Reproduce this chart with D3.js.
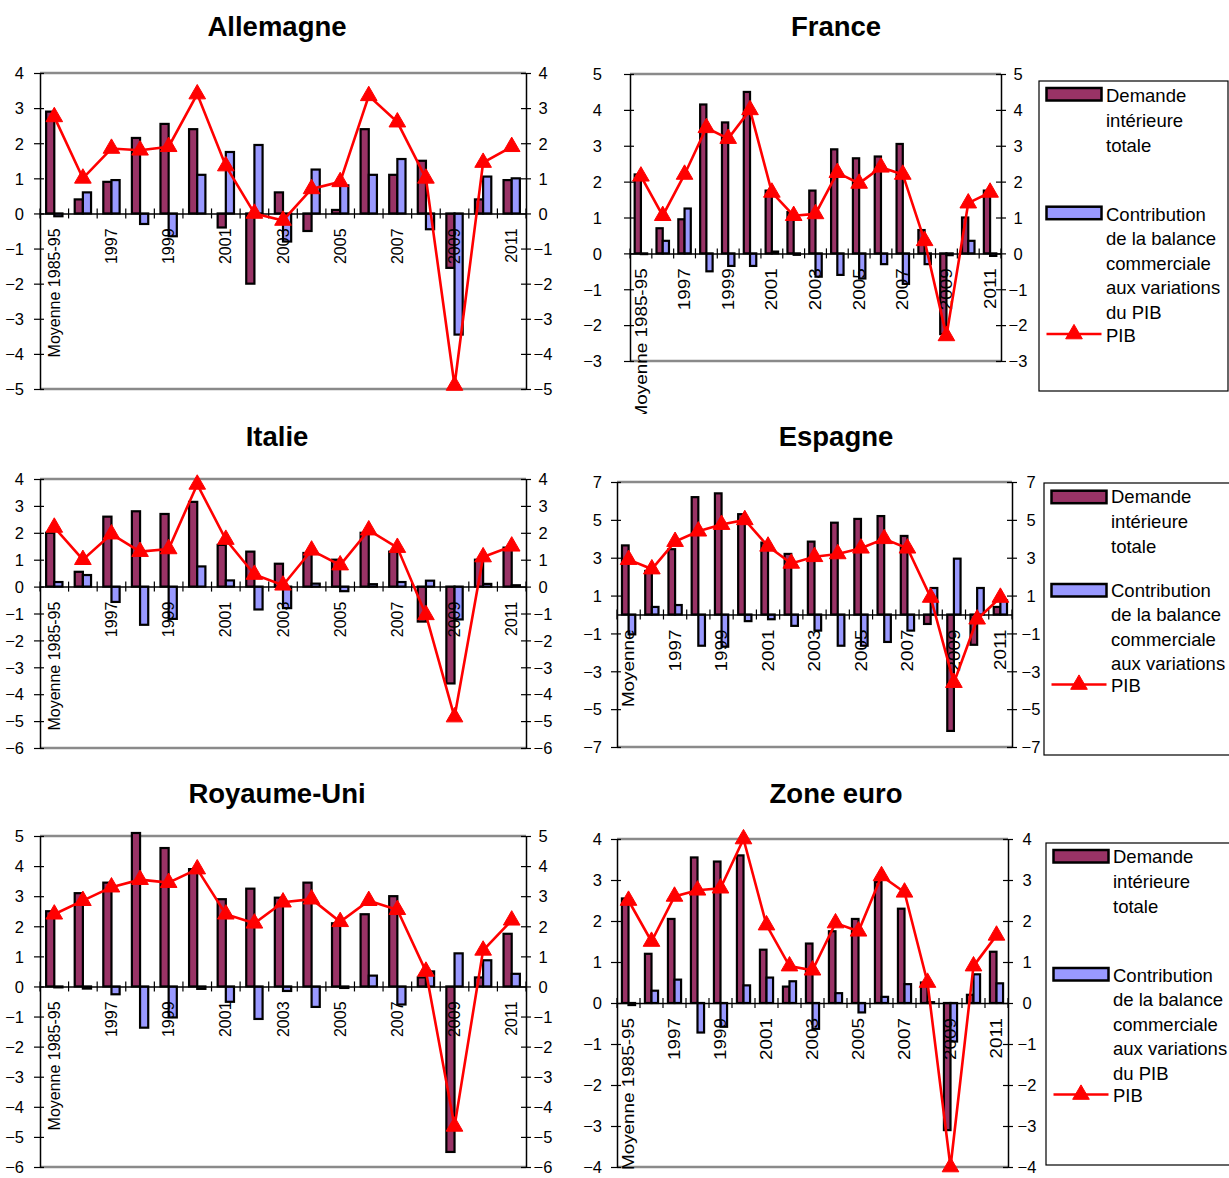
<!DOCTYPE html>
<html>
<head>
<meta charset="utf-8">
<script src="https://cdn.jsdelivr.net/npm/d3@7"></script>
<style>
  body { margin: 0; background: #fff; }
  svg { display: block; font-family: "Liberation Sans", Arial, Helvetica, sans-serif; }
</style>
</head>
<body>
<script>
// ---------- DATA ----------
const categories = ["Moyenne 1985-95","1996","1997","1998","1999","2000","2001","2002","2003","2004","2005","2006","2007","2008","2009","2010","2011"];

const demandeAllemagne = [2.9,0.4,0.9,2.15,2.55,2.4,-0.4,-2.0,0.6,-0.5,0.1,2.4,1.1,1.5,-1.55,0.4,0.95];
const balanceAllemagne = [-0.08,0.6,0.95,-0.3,-0.65,1.1,1.75,1.95,-0.8,1.25,0.8,1.1,1.55,-0.45,-3.45,1.05,1.0];
const pibAllemagne     = [2.75,1.0,1.85,1.8,1.9,3.4,1.35,0.0,-0.2,0.7,0.9,3.35,2.6,1.0,-4.9,1.45,1.9];

const demandeFrance = [2.2,0.7,0.95,4.15,3.65,4.5,1.75,1.15,1.75,2.9,2.65,2.7,3.05,0.65,-2.25,1.0,1.75];
const balanceFrance = [-0.02,0.35,1.25,-0.5,-0.35,-0.35,0.05,-0.04,-0.65,-0.6,-0.7,-0.3,-0.85,-0.3,-0.05,0.35,-0.07];
const pibFrance     = [2.15,1.05,2.2,3.5,3.2,4.0,1.7,1.05,1.1,2.25,1.95,2.4,2.2,0.35,-2.3,1.4,1.7];

const demandeItalie = [2.0,0.55,2.6,2.8,2.7,3.15,1.55,1.3,0.85,1.25,1.0,2.0,1.3,-1.3,-3.6,1.0,1.45];
const balanceItalie = [0.17,0.43,-0.57,-1.42,-1.2,0.75,0.23,-0.85,-0.8,0.11,-0.17,0.09,0.17,0.22,-1.22,0.1,0.05];
const pibItalie     = [2.2,1.0,1.95,1.3,1.4,3.8,1.75,0.45,0.05,1.35,0.8,2.1,1.45,-1.05,-4.85,1.1,1.5];

const demandeEspagne = [3.65,2.3,3.45,6.2,6.4,5.3,3.8,3.2,3.85,4.85,5.05,5.2,4.15,-0.5,-6.15,-1.6,0.4];
const balanceEspagne = [-1.05,0.4,0.5,-1.65,-1.7,-0.35,-0.25,-0.6,-0.85,-1.65,-1.65,-1.45,-0.85,1.4,2.95,1.4,0.75];
const pibEspagne     = [2.9,2.4,3.85,4.4,4.75,5.0,3.6,2.7,3.05,3.2,3.5,4.0,3.5,0.9,-3.6,-0.25,0.9];

const demandeRoyaumeUni = [2.5,3.1,3.45,5.1,4.6,3.9,2.9,3.25,2.95,3.45,2.1,2.4,3.0,0.3,-5.5,0.3,1.75];
const balanceRoyaumeUni = [-0.03,-0.07,-0.26,-1.37,-1.03,-0.08,-0.51,-1.08,-0.15,-0.68,-0.05,0.36,-0.6,0.5,1.1,0.87,0.42];
const pibRoyaumeUni     = [2.4,2.85,3.3,3.55,3.45,3.9,2.4,2.1,2.8,2.9,2.15,2.85,2.55,0.5,-4.65,1.2,2.2];

const demandeZoneEuro = [2.55,1.2,2.05,3.55,3.45,3.6,1.3,0.4,1.45,1.75,2.05,2.95,2.3,0.5,-3.1,0.2,1.25];
const balanceZoneEuro = [-0.05,0.3,0.57,-0.72,-0.58,0.43,0.62,0.53,-0.63,0.24,-0.23,0.15,0.46,0.02,-0.94,0.7,0.48];
const pibZoneEuro     = [2.5,1.5,2.6,2.75,2.8,4.0,1.9,0.9,0.8,1.95,1.75,3.1,2.7,0.5,-4.0,0.9,1.65];

const ticksAllemagne = [-5,-4,-3,-2,-1,0,1,2,3,4];
const ticksFrance    = [-3,-2,-1,0,1,2,3,4,5];
const ticksItalie    = [-6,-5,-4,-3,-2,-1,0,1,2,3,4];
const ticksEspagne   = [-7,-5,-3,-1,1,3,5,7];
const ticksRoyaumeUni= [-6,-5,-4,-3,-2,-1,0,1,2,3,4,5];
const ticksZoneEuro  = [-4,-3,-2,-1,0,1,2,3,4];

const legendDemande = ["Demande","intérieure","totale"];
const legendBalance = ["Contribution","de la balance","commerciale","aux variations","du PIB"];
const legendPIB = ["PIB"];

// ---------- STYLE / LAYOUT ----------
const COL_DEM = "#993366", COL_BAL = "#9999FF", COL_PIB = "#FF0000";
const FONT = "'Liberation Sans', Arial, Helvetica, sans-serif";

const panels = [
  {title:"Allemagne", tx:277, ty:36, dem:demandeAllemagne, bal:balanceAllemagne, pib:pibAllemagne, ticks:ticksAllemagne,
   left:40, right:526, top:73, bottom:389, lblRight:24, rOff:17, shortFirst:false, stretch:1, clipBottom:null, legend:null},
  {title:"France", tx:836, ty:36, dem:demandeFrance, bal:balanceFrance, pib:pibFrance, ticks:ticksFrance,
   left:630, right:1001, top:74, bottom:361, lblRight:602, rOff:17, shortFirst:false, stretch:1.18, clipBottom:414,
   legend:{x:1039, y:81, w:189, h:310, sw1:7, t1:20.7, sw2:125.7, t2:139.7, ln:253, tp:260.5, nBal:5}},
  {title:"Italie", tx:277, ty:446, dem:demandeItalie, bal:balanceItalie, pib:pibItalie, ticks:ticksItalie,
   left:40, right:526, top:479, bottom:748, lblRight:24, rOff:17, shortFirst:false, stretch:1, clipBottom:null, legend:null},
  {title:"Espagne", tx:836, ty:446, dem:demandeEspagne, bal:balanceEspagne, pib:pibEspagne, ticks:ticksEspagne,
   left:617, right:1012, top:482, bottom:747, lblRight:602, rOff:19, shortFirst:true, stretch:1.18, clipBottom:null,
   legend:{x:1044, y:483, w:210, h:272, sw1:7.7, t1:19.7, sw2:101, t2:113.7, ln:201.5, tp:209, nBal:4}},
  {title:"Royaume-Uni", tx:277, ty:803, dem:demandeRoyaumeUni, bal:balanceRoyaumeUni, pib:pibRoyaumeUni, ticks:ticksRoyaumeUni,
   left:40, right:526, top:836, bottom:1167, lblRight:24, rOff:17, shortFirst:false, stretch:1, clipBottom:null, legend:null},
  {title:"Zone euro", tx:836, ty:803, dem:demandeZoneEuro, bal:balanceZoneEuro, pib:pibZoneEuro, ticks:ticksZoneEuro,
   left:617, right:1008, top:839, bottom:1167, lblRight:602, rOff:19, shortFirst:false, stretch:1.18, clipBottom:1178,
   legend:{x:1046, y:843, w:210, h:322, sw1:7, t1:19.7, sw2:125, t2:138.7, ln:251.5, tp:259, nBal:5}}
];

const svg = d3.select("body").append("svg").attr("width",1229).attr("height",1178);
const defs = svg.append("defs");
const tri = d3.symbol().type(d3.symbolTriangle).size(120);

function drawPanel(p, idx) {
  const g = svg.append("g");
  const x = d3.scaleBand().domain(categories).range([p.left, p.right]).padding(0);
  const xs = d3.scaleBand().domain(["dem","bal"]).range([0, x.bandwidth()]).paddingInner(0).paddingOuter(0.75);
  const yMin = d3.min(p.ticks), yMax = d3.max(p.ticks);
  const y = d3.scaleLinear().domain([yMin, yMax]).range([p.bottom, p.top]);
  const y0 = y(0);

  // title
  g.append("text").attr("x", p.tx).attr("y", p.ty).attr("text-anchor","middle")
    .attr("font-size", 27.5).attr("font-weight","bold").attr("fill","#000").text(p.title);

  // top & bottom border (grey)
  [yMax, yMin].forEach(v => {
    g.append("line").attr("x1",p.left).attr("x2",p.right).attr("y1",y(v)).attr("y2",y(v))
      .attr("stroke","#8a8a8a").attr("stroke-width",2.5);
  });

  // left axis
  const la = g.append("g").attr("transform",`translate(${p.left},0)`)
    .call(d3.axisLeft(y).tickValues(p.ticks).tickSizeOuter(0).tickFormat(d3.format("d")));
  la.select(".domain").attr("stroke","#000").attr("stroke-width",1.5);
  la.selectAll(".tick line").attr("x1",4).attr("x2",-6).attr("stroke","#000").attr("stroke-width",1.2);
  la.selectAll(".tick text").attr("x", p.lblRight - p.left).attr("dy","0.35em").attr("text-anchor","end")
    .attr("font-size",16.5).attr("fill","#000").style("font-family",FONT);

  // right axis
  const ra = g.append("g").attr("transform",`translate(${p.right},0)`)
    .call(d3.axisRight(y).tickValues(p.ticks).tickSizeOuter(0).tickFormat(d3.format("d")));
  ra.select(".domain").attr("stroke","#000").attr("stroke-width",1.5);
  ra.selectAll(".tick line").attr("x1",-5).attr("x2",5).attr("stroke","#000").attr("stroke-width",1.2);
  ra.selectAll(".tick text").attr("x", p.rOff).attr("dy","0.35em").attr("text-anchor","middle")
    .attr("font-size",16.5).attr("fill","#000").style("font-family",FONT);

  // bars
  const rows = categories.map((c,i) => ({c, dem:p.dem[i], bal:p.bal[i], pib:p.pib[i]}));
  ["dem","bal"].forEach(k => {
    g.selectAll(".bar-"+k).data(rows).join("rect")
      .attr("x", d => x(d.c) + xs(k))
      .attr("width", xs.bandwidth())
      .attr("y", d => Math.min(y(d[k]), y0))
      .attr("height", d => Math.abs(y(d[k]) - y0))
      .attr("fill", k === "dem" ? COL_DEM : COL_BAL)
      .attr("stroke","#000").attr("stroke-width",2.2);
  });

  // category axis at zero
  const catAxis = d3.axisBottom(x).tickSize(0)
    .tickFormat((d,i) => i % 2 === 0 ? (i === 0 && p.shortFirst ? d.split(" ")[0] : d) : "");
  const ca = g.append("g").attr("transform",`translate(0,${y0})`).call(catAxis);
  if (p.clipBottom) {
    const id = "clip" + idx;
    defs.append("clipPath").attr("id", id).append("rect")
      .attr("x", p.left - 30).attr("y", -50).attr("width", p.right - p.left + 60).attr("height", p.clipBottom - y0 + 50);
    ca.attr("clip-path", `url(#${id})`);
  }
  ca.select(".domain").attr("stroke","#000").attr("stroke-width",1.5);
  ca.selectAll(".tick text")
    .attr("transform",`rotate(-90) scale(${p.stretch},1)`).attr("x",-15 / p.stretch).attr("y",0).attr("dy","0.35em")
    .attr("text-anchor","end").attr("font-size",16).attr("fill","#000")
    .style("font-family",FONT);
  const bounds = categories.map(c => x(c)).concat([x(categories[categories.length-1]) + x.bandwidth()]);
  g.selectAll(".bt").data(bounds).join("line")
    .attr("x1",d=>d).attr("x2",d=>d).attr("y1",y0-5).attr("y2",y0+5)
    .attr("stroke","#000").attr("stroke-width",1.2);

  // PIB line
  const line = d3.line().x(d => x(d.c) + x.bandwidth()/2).y(d => y(d.pib));
  g.append("path").datum(rows).attr("d", line).attr("fill","none")
    .attr("stroke", COL_PIB).attr("stroke-width", 2.6);
  g.selectAll(".mk").data(rows).join("path")
    .attr("transform", d => `translate(${x(d.c) + x.bandwidth()/2},${y(d.pib)})`)
    .attr("d", tri).attr("fill", COL_PIB).attr("stroke", COL_PIB).attr("stroke-width",1);

  // legend
  if (p.legend) {
    const L = p.legend;
    const lg = svg.append("g");
    lg.append("rect").attr("x",L.x).attr("y",L.y).attr("width",L.w).attr("height",L.h)
      .attr("fill","#fff").attr("stroke","#000").attr("stroke-width",1.2);
    const sx = L.x + 7.5, sw = 55, tx = L.x + 67;
    lg.append("rect").attr("x",sx).attr("y",L.y+L.sw1).attr("width",sw).attr("height",12.5)
      .attr("fill",COL_DEM).attr("stroke","#000").attr("stroke-width",2.5);
    lg.append("rect").attr("x",sx).attr("y",L.y+L.sw2).attr("width",sw).attr("height",12.5)
      .attr("fill",COL_BAL).attr("stroke","#000").attr("stroke-width",2.5);
    const txt = (s, yy) => lg.append("text").attr("x",tx).attr("y",yy).attr("font-size",18.5).attr("fill","#000").text(s);
    legendDemande.forEach((s,i) => txt(s, L.y + L.t1 + 25*i));
    legendBalance.slice(0, L.nBal).forEach((s,i) => txt(s, L.y + L.t2 + 24.5*i));
    lg.append("line").attr("x1",sx).attr("x2",sx+sw).attr("y1",L.y+L.ln).attr("y2",L.y+L.ln)
      .attr("stroke",COL_PIB).attr("stroke-width",2.6);
    lg.append("path").attr("transform",`translate(${sx+sw/2},${L.y+L.ln})`).attr("d",tri)
      .attr("fill",COL_PIB).attr("stroke",COL_PIB);
    txt(legendPIB[0], L.y + L.tp);
  }
}

panels.forEach(drawPanel);
</script>
</body>
</html>
